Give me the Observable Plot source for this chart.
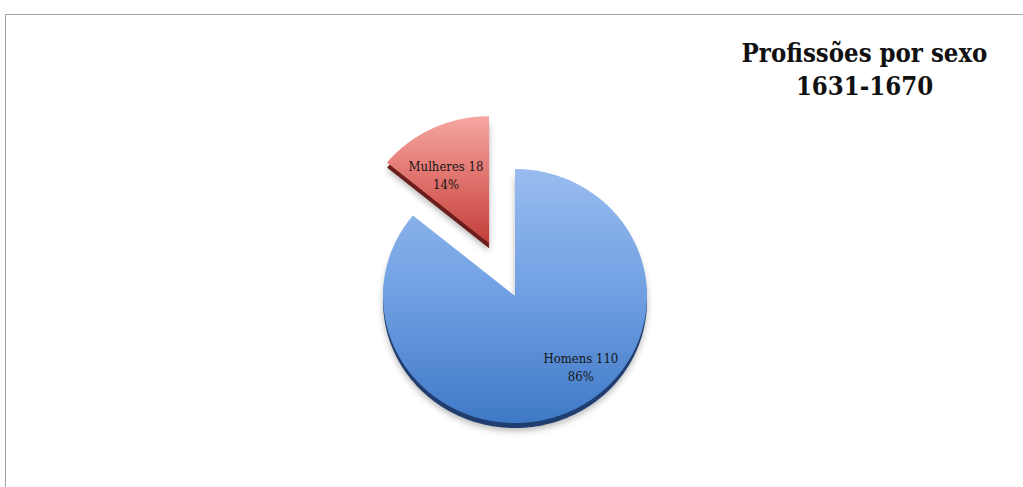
<!DOCTYPE html>
<html><head><meta charset="utf-8">
<script src="https://cdn.jsdelivr.net/npm/d3@7"></script>
<script src="https://cdn.jsdelivr.net/npm/@observablehq/plot@0.6"></script>
<style>
body{margin:0;background:#fff;}
#wrap{position:relative;width:1023px;height:487px;overflow:hidden;}
#border{position:absolute;left:5px;top:14px;width:1100px;height:600px;border-top:1.5px solid #a3a3a3;border-left:1.5px solid #a3a3a3;pointer-events:none;}
#wrap svg{position:absolute;left:0;top:0;}
</style></head><body><div id="wrap"><div id="border"></div></div>
<script>
// ---- data ----
const categories = ["Homens", "Mulheres"];
const counts = [110, 18];
const titleLines = ["Profissões por sexo", "1631-1670"];

// ---- styling / layout constants ----
const explodeBy = [0, 0.46];              // radial offset in pie-radius units
const faceColors = [["#98bcef", "#6f9fe2", "#3f79c7"], ["#f6a7a2", "#e0716c", "#c23f3a"]];
const depthColors = ["#1f3e6f", "#6b1e1b"];
const labelPlace = [{r: 0.74, deg: 138}, {r: 0.64, deg: -31}]; // label spots in slice frame

const total = d3.sum(counts);
const arcs = d3.pie().sort(null)(counts);
const slices = arcs.map((a, i) => {
  const mid = (a.startAngle + a.endAngle) / 2;
  const dx = explodeBy[i] * Math.sin(mid), dy = explodeBy[i] * Math.cos(mid);
  const la = labelPlace[i].deg * Math.PI / 180;
  return {
    cat: categories[i], value: counts[i],
    pct: Math.round(100 * counts[i] / total),
    a0: a.startAngle, a1: a.endAngle, dx, dy,
    lx: dx + labelPlace[i].r * Math.sin(la),
    ly: dy + labelPlace[i].r * Math.cos(la)
  };
});

function pieSlices(index, scales, values, dimensions, context) {
  const {x, y} = scales;
  const g = d3.create("svg:g");
  const defs = g.append("defs");
  defs.append("filter").attr("id", "pieblur").attr("x", "-20%").attr("y", "-20%").attr("width", "140%").attr("height", "140%")
    .append("feGaussianBlur").attr("stdDeviation", 3);
  slices.forEach((s, i) => {
    const gr = defs.append("linearGradient").attr("id", "pg" + i)
      .attr("x1", 0).attr("y1", 0).attr("x2", 0).attr("y2", 1);
    faceColors[i].forEach((c, k, arr) => gr.append("stop").attr("offset", k / (arr.length - 1)).attr("stop-color", c));
  });
  const paths = slices.map(s => {
    const n = Math.max(12, Math.ceil((s.a1 - s.a0) / 0.01));
    const pts = [[s.dx, s.dy]];
    for (let k = 0; k <= n; k++) {
      const a = s.a0 + (s.a1 - s.a0) * k / n;
      pts.push([s.dx + Math.sin(a), s.dy + Math.cos(a)]);
    }
    return "M" + pts.map(p => x(p[0]).toFixed(2) + "," + y(p[1]).toFixed(2)).join("L") + "Z";
  });
  // shadows
  paths.forEach(d => g.append("path").attr("d", d).attr("transform", "translate(0,8)")
    .attr("fill", "#000").attr("fill-opacity", 0.28).attr("filter", "url(#pieblur)"));
  paths.forEach((d, i) => {
    g.append("path").attr("d", d).attr("transform", "translate(0,5)").attr("fill", depthColors[i]);
    g.append("path").attr("d", d).attr("fill", `url(#pg${i})`);
  });
  return g.node();
}

const chart = Plot.plot({
  width: 1023, height: 487, margin: 0,
  x: {domain: [-1, 1], range: [383, 647], axis: null},
  y: {domain: [1, -1], range: [169, 423], axis: null},
  style: {background: "transparent", overflow: "visible"},
  marks: [
    pieSlices,
    Plot.text(slices, {
      x: "lx", y: "ly",
      text: d => `${d.cat} ${d.value}\n${d.pct}%`,
      fontFamily: "DejaVu Serif Condensed", fontSize: 13, fill: "#161616", lineHeight: 1.4
    }),
    Plot.text([titleLines.join("\n")], {
      frameAnchor: "top-left", dx: 864, dy: 38, textAnchor: "middle", lineAnchor: "top",
      fontFamily: "DejaVu Serif Condensed", fontWeight: "bold", fontSize: 25.5, fill: "#111", lineHeight: 1.3
    })
  ]
});
document.getElementById("wrap").appendChild(chart);
</script>
</body></html>
